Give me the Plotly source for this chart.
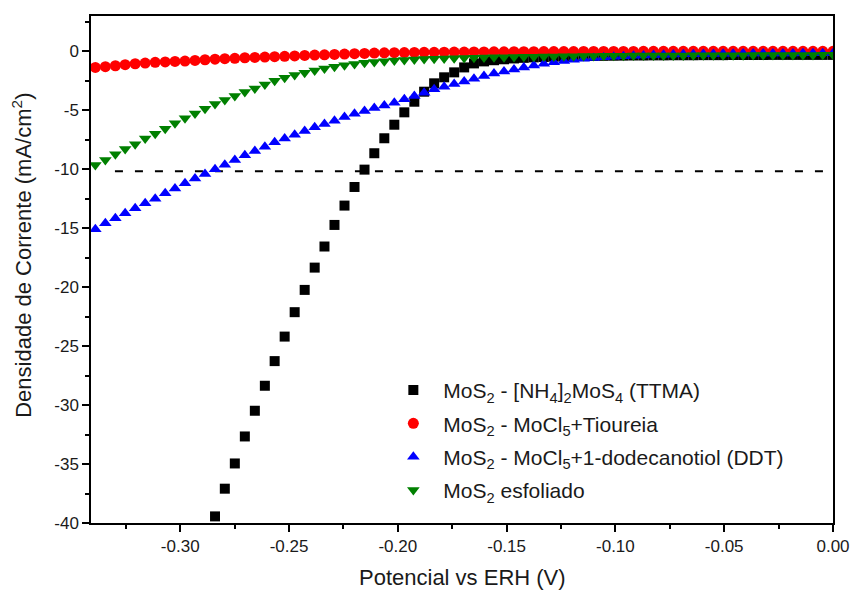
import plotly.graph_objects as go

# Potential grid (V vs RHE) shared by all four polarisation curves
potencial = [
    -0.3390, -0.3344, -0.3298, -0.3253, -0.3207, -0.3161, -0.3115, -0.3069, -0.3024, -0.2978,
    -0.2932, -0.2886, -0.2840, -0.2795, -0.2749, -0.2703, -0.2657, -0.2611, -0.2566, -0.2520,
    -0.2474, -0.2428, -0.2382, -0.2337, -0.2291, -0.2245, -0.2199, -0.2153, -0.2108, -0.2062,
    -0.2016, -0.1970, -0.1924, -0.1879, -0.1833, -0.1787, -0.1741, -0.1695, -0.1650, -0.1604,
    -0.1558, -0.1512, -0.1466, -0.1421, -0.1375, -0.1329, -0.1283, -0.1237, -0.1192, -0.1146,
    -0.1100, -0.1054, -0.1008, -0.0963, -0.0917, -0.0871, -0.0825, -0.0779, -0.0734, -0.0688,
    -0.0642, -0.0596, -0.0550, -0.0505, -0.0459, -0.0413, -0.0367, -0.0321, -0.0276, -0.0230,
    -0.0184, -0.0138, -0.0092, -0.0047, 0.0000,
]

# Current density (mA/cm2)
j_ttma = [
    -39.44, -37.09, -34.95, -32.66, -30.48, -28.36, -26.27, -24.19, -22.12, -20.23,
    -18.34, -16.55, -14.72, -13.08, -11.50, -10.03, -8.64, -7.37, -6.22, -5.17,
    -4.27, -3.42, -2.71, -2.20, -1.78, -1.36, -1.02, -0.85, -0.75, -0.67,
    -0.60, -0.55, -0.51, -0.48, -0.45, -0.43, -0.41, -0.40, -0.39, -0.38,
    -0.37, -0.36, -0.35, -0.35, -0.34, -0.34, -0.33, -0.33, -0.33, -0.32,
    -0.32, -0.32, -0.31, -0.31, -0.31, -0.31, -0.30, -0.30, -0.30, -0.30,
    -0.30, -0.30, -0.30,
]
pot_ttma = potencial[12:]

j_tioureia = [
    -1.36, -1.30, -1.22, -1.13, -1.05, -0.99, -0.93, -0.90, -0.85, -0.82,
    -0.77, -0.71, -0.66, -0.62, -0.59, -0.54, -0.51, -0.48, -0.45, -0.42,
    -0.39, -0.34, -0.31, -0.29, -0.26, -0.23, -0.20, -0.17, -0.14, -0.12,
    -0.11, -0.10, -0.09, -0.08, -0.08, -0.07, -0.06, -0.06, -0.05, -0.05,
    -0.04, -0.04, -0.03, -0.03, -0.03, -0.02, -0.02, -0.02, -0.02, -0.01,
    -0.01, -0.01, -0.01, -0.01, -0.01, 0.00, 0.00, 0.00, 0.00, 0.00,
    0.00, 0.00, 0.00, 0.00, 0.00, 0.00, 0.00, 0.00, 0.00, 0.00,
    0.00, 0.00, 0.00, 0.00, 0.00,
]

j_ddt = [
    -15.09, -14.58, -14.15, -13.73, -13.31, -12.88, -12.49, -12.04, -11.64, -11.19,
    -10.79, -10.40, -10.00, -9.61, -9.21, -8.82, -8.45, -8.08, -7.71, -7.38,
    -7.07, -6.75, -6.44, -6.16, -5.88, -5.57, -5.29, -5.06, -4.80, -4.60,
    -4.35, -4.07, -3.79, -3.51, -3.22, -3.00, -2.77, -2.55, -2.32, -2.09,
    -1.87, -1.70, -1.53, -1.36, -1.19, -1.05, -0.93, -0.82, -0.72, -0.63,
    -0.56, -0.50, -0.45, -0.41, -0.37, -0.34, -0.31, -0.29, -0.27, -0.25,
    -0.24, -0.23, -0.22, -0.21, -0.20, -0.19, -0.19, -0.18, -0.18, -0.17,
    -0.17, -0.16, -0.16, -0.15, -0.15,
]

j_esfoliado = [
    -9.64, -9.21, -8.73, -8.28, -7.88, -7.38, -6.98, -6.56, -6.10, -5.68,
    -5.26, -4.86, -4.47, -4.13, -3.79, -3.45, -3.14, -2.80, -2.49, -2.23,
    -2.01, -1.81, -1.62, -1.45, -1.30, -1.18, -1.07, -0.97, -0.90, -0.83,
    -0.78, -0.73, -0.68, -0.65, -0.62, -0.60, -0.58, -0.56, -0.54, -0.52,
    -0.50, -0.49, -0.47, -0.46, -0.45, -0.44, -0.43, -0.42, -0.41, -0.40,
    -0.39, -0.38, -0.38, -0.37, -0.36, -0.36, -0.35, -0.35, -0.34, -0.34,
    -0.33, -0.33, -0.33, -0.32, -0.32, -0.32, -0.31, -0.31, -0.31, -0.30,
    -0.30, -0.30, -0.30, -0.29, -0.29,
]

# Reference level of -10 mA/cm2
ref_pot = [-0.330, 0.000]
ref_j = [-10.17, -10.17]

x_ticks = [-0.30, -0.25, -0.20, -0.15, -0.10, -0.05, 0.00]
y_ticks = [0, -5, -10, -15, -20, -25, -30, -35, -40]

x_title = "Potencial vs ERH (V)"
y_title = "Densidade de Corrente (mA/cm<sup>2</sup>)"

FONT = "Liberation Sans"
INK = "#1a1a1a"

fig = go.Figure()

fig.add_trace(go.Scatter(
    x=ref_pot, y=ref_j, mode="lines", showlegend=False, hoverinfo="skip",
    line=dict(color="black", width=2, dash="8px,12px"),
))

series = [
    ("MoS<sub>2</sub> - [NH<sub>4</sub>]<sub>2</sub>MoS<sub>4</sub> (TTMA)",
     pot_ttma, j_ttma, "square", 10, "#000000"),
    ("MoS<sub>2</sub> - MoCl<sub>5</sub>+Tioureia",
     potencial, j_tioureia, "circle", 11, "#ff0000"),
    ("MoS<sub>2</sub> - MoCl<sub>5</sub>+1-dodecanotiol (DDT)",
     potencial, j_ddt, "triangle-up", 11, "#0000ff"),
    ("MoS<sub>2</sub> esfoliado",
     potencial, j_esfoliado, "triangle-down", 11, "#008000"),
]
for i, (label, xs, ys, sym, size, color) in enumerate(series):
    fig.add_trace(go.Scatter(
        x=xs, y=ys, mode="markers", name=label, legendgroup=f"g{i}",
        marker=dict(symbol=sym, size=size, color=color),
    ))

axis_common = dict(
    showgrid=False, zeroline=False, automargin=False,
    showline=True, linecolor="black", linewidth=1.5, mirror=True,
    ticks="outside", ticklen=7, tickwidth=1.5, tickcolor="black",
    tickfont=dict(family=FONT, size=17, color=INK),
)

fig.update_xaxes(
    **axis_common,
    range=[-0.341, 0.0],
    tickvals=x_ticks, ticktext=[f"{v:.2f}" for v in x_ticks],
    minor=dict(ticks="outside", ticklen=4, tickwidth=1.5, tickcolor="black", dtick=0.025, tick0=0),
)
fig.update_yaxes(
    **axis_common,
    range=[-40, 3],
    tickvals=y_ticks, ticktext=[str(v) for v in y_ticks],
    minor=dict(ticks="outside", ticklen=4, tickwidth=1.5, tickcolor="black", dtick=2.5, tick0=0),
)

# Axis titles placed as paper-anchored annotations
fig.add_annotation(
    text=x_title, xref="paper", yref="paper", x=0.5, y=-0.108,
    xanchor="center", yanchor="middle", showarrow=False,
    font=dict(family=FONT, size=22, color=INK),
)
fig.add_annotation(
    text=y_title, xref="paper", yref="paper", x=-0.093, y=0.529,
    xanchor="center", yanchor="middle", showarrow=False, textangle=-90,
    font=dict(family=FONT, size=22, color=INK),
)

fig.update_layout(
    width=853, height=590,
    margin=dict(l=91, r=20, t=16, b=67),
    paper_bgcolor="white", plot_bgcolor="white",
    legend=dict(
        x=0.394, y=0.302, xanchor="left", yanchor="top",
        font=dict(family=FONT, size=21, color=INK),
        itemwidth=50, bgcolor="rgba(0,0,0,0)", tracegroupgap=3,
    ),
    font=dict(family=FONT, size=17, color=INK),
)

fig.write_html("out.html")
